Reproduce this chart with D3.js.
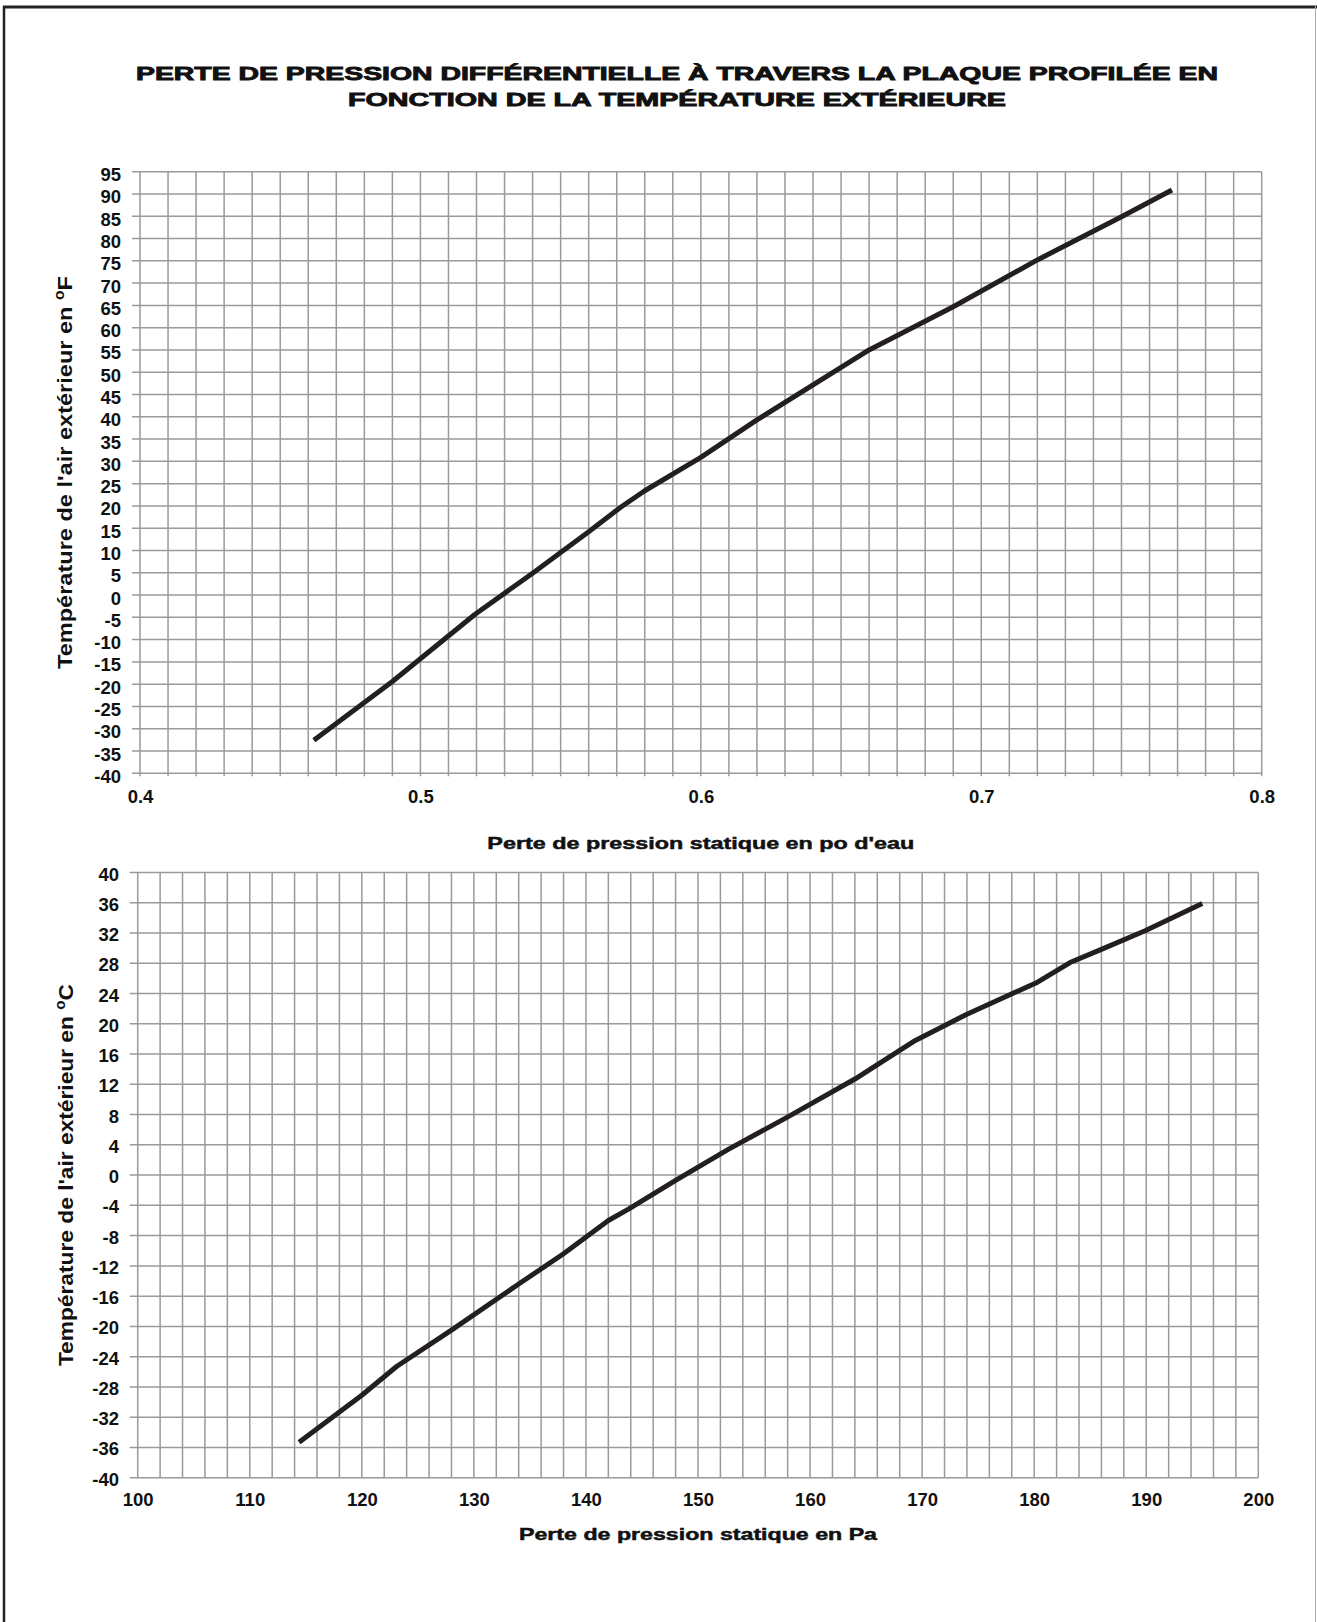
<!DOCTYPE html>
<html>
<head>
<meta charset="utf-8">
<script src="https://cdn.jsdelivr.net/npm/d3@7/dist/d3.min.js"></script>
<style>
  html, body { margin: 0; padding: 0; background: #fff; }
  svg { display: block; }
  text { font-family: "Liberation Sans", Arial, Helvetica, sans-serif; fill: #111; }
</style>
</head>
<body>
<svg id="chart" width="1317" height="1622"></svg>
<script>
// ---------- DATA ----------
const titleLines = [
  "PERTE DE PRESSION DIFFÉRENTIELLE À TRAVERS LA PLAQUE PROFILÉE EN",
  "FONCTION DE LA TEMPÉRATURE EXTÉRIEURE"
];

// Upper chart: pressure drop (in. of water) vs outdoor temperature (°F)
const topPressure = [0.462, 0.490, 0.5195, 0.540, 0.560, 0.5714, 0.580, 0.600, 0.620, 0.660, 0.690, 0.720, 0.750, 0.768];
const topTempF    = [-32.6, -19.4, -4.3,   4.9,   14.2,  19.7,   23.4,  30.9,  39.3,  55.0,  64.7,  75.2,  84.9,  90.9];
const topXTickLabels = [0.4, 0.5, 0.6, 0.7, 0.8];
const topYTickLabels = [95, 90, 85, 80, 75, 70, 65, 60, 55, 50, 45, 40, 35, 30, 25, 20, 15, 10, 5, 0, -5, -10, -15, -20, -25, -30, -35, -40];
const topXTitle = "Perte de pression statique en po d'eau";
const topYTitle = "Température de l'air extérieur en ";
const topYUnit = "F";

// Lower chart: pressure drop (Pa) vs outdoor temperature (°C)
const botPressure = [114.4, 120.0, 123.1, 128.0, 133.9, 138.0, 142.0, 143.8, 148.0, 152.7, 157.9, 164.0, 168.0, 169.4, 173.9, 180.3, 183.2, 186.1, 189.9, 195.0];
const botTempC    = [-35.3, -29.1, -25.3, -20.5, -14.5, -10.4, -6.0,  -4.5,  -0.7,  3.4,   7.6,   12.7,  16.5,  17.8,  21.2,  25.5,  28.1,  29.9,  32.3,  35.9];
const botXTickLabels = [100, 110, 120, 130, 140, 150, 160, 170, 180, 190, 200];
const botYTickLabels = [40, 36, 32, 28, 24, 20, 16, 12, 8, 4, 0, -4, -8, -12, -16, -20, -24, -28, -32, -36, -40];
const botXTitle = "Perte de pression statique en Pa";
const botYTitle = "Température de l'air extérieur en ";
const botYUnit = "C";

// ---------- DRAWING ----------
const svg = d3.select("#chart");
const GRID = "#9a9a9a";
const INK = "#231f20";

// page frame
svg.append("line").attr("x1", 3).attr("x2", 1317).attr("y1", 7).attr("y2", 7)
  .attr("stroke", "#222").attr("stroke-width", 3);
svg.append("line").attr("x1", 4).attr("x2", 4).attr("y1", 6).attr("y2", 1622)
  .attr("stroke", "#222").attr("stroke-width", 2.5);
svg.append("line").attr("x1", 1315.5).attr("x2", 1315.5).attr("y1", 6).attr("y2", 1622)
  .attr("stroke", "#aaa").attr("stroke-width", 1);

// title
const titleY = [80, 106];
const titleW = [1082, 658];
titleLines.forEach((t, i) => {
  svg.append("text")
    .attr("x", 677).attr("y", titleY[i])
    .attr("text-anchor", "middle")
    .attr("font-size", 19)
    .attr("font-weight", "bold")
    .attr("stroke", "#111").attr("stroke-width", 0.9)
    .attr("textLength", titleW[i])
    .attr("lengthAdjust", "spacingAndGlyphs")
    .text(t);
});

function drawPanel(cfg) {
  const x = d3.scaleLinear().domain(cfg.xDomain).range([cfg.left, cfg.right]);
  const y = d3.scaleLinear().domain(cfg.yDomain).range([cfg.bottom, cfg.top]);
  const g = svg.append("g");

  // vertical grid lines
  const vStep = (cfg.xDomain[1] - cfg.xDomain[0]) / cfg.xCells;
  const vVals = d3.range(cfg.xCells + 1).map(i => cfg.xDomain[0] + i * vStep);
  g.append("g").selectAll("line").data(vVals).join("line")
    .attr("x1", d => x(d)).attr("x2", d => x(d))
    .attr("y1", cfg.top).attr("y2", cfg.bottom + cfg.xTickLen)
    .attr("stroke", GRID).attr("stroke-width", 1.5);

  // horizontal grid lines (extend left as tick marks)
  g.append("g").selectAll("line").data(cfg.yTicks).join("line")
    .attr("x1", cfg.left - cfg.yTickLen).attr("x2", cfg.right)
    .attr("y1", d => y(d)).attr("y2", d => y(d))
    .attr("stroke", GRID).attr("stroke-width", 1.5);

  // y axis labels through d3 axis
  const yAxis = d3.axisLeft(y).tickValues(cfg.yTicks).tickSize(0).tickPadding(0)
    .tickFormat(d => String(d));
  const ya = g.append("g").attr("transform", `translate(${cfg.yLabelX},0)`).call(yAxis);
  ya.select(".domain").remove();
  ya.selectAll("text")
    .attr("font-family", "'Liberation Sans', Arial, sans-serif")
    .attr("font-size", 18.5).attr("font-weight", "bold").attr("fill", "#111")
    .attr("dy", null).attr("y", cfg.yLabelDy);

  // x axis labels through d3 axis
  const xAxis = d3.axisBottom(x).tickValues(cfg.xTicks).tickSize(0).tickPadding(0)
    .tickFormat(cfg.xFormat);
  const xa = g.append("g").attr("transform", `translate(0,${cfg.xLabelY})`).call(xAxis);
  xa.select(".domain").remove();
  xa.selectAll("text")
    .attr("font-family", "'Liberation Sans', Arial, sans-serif")
    .attr("font-size", 18.5).attr("font-weight", "bold").attr("fill", "#111")
    .attr("dy", null).attr("y", 0);

  // curve
  const pts = cfg.xs.map((v, i) => [v, cfg.ys[i]]);
  g.append("path")
    .datum(pts)
    .attr("fill", "none")
    .attr("stroke", INK)
    .attr("stroke-width", 5)
    .attr("stroke-linejoin", "round")
    .attr("d", d3.line().x(d => x(d[0])).y(d => y(d[1])).curve(d3.curveLinear));

  // x title
  svg.append("text")
    .attr("x", (cfg.left + cfg.right) / 2).attr("y", cfg.xTitleY)
    .attr("text-anchor", "middle")
    .attr("font-size", 17).attr("font-weight", "bold")
    .attr("stroke", "#111").attr("stroke-width", 0.5)
    .attr("textLength", cfg.xTitleW).attr("lengthAdjust", "spacingAndGlyphs")
    .text(cfg.xTitle);

  // y title (rotated) with superscript degree "o"
  const cy = (cfg.top + cfg.bottom) / 2;
  const yt = svg.append("text")
    .attr("transform", `translate(${cfg.yTitleX},${cy}) rotate(-90)`)
    .attr("text-anchor", "middle")
    .attr("font-size", 21).attr("font-weight", "bold")
    .attr("textLength", cfg.yTitleW).attr("lengthAdjust", "spacingAndGlyphs");
  yt.append("tspan").text(cfg.yTitle);
  yt.append("tspan").attr("font-size", 14).attr("dy", -8).text("o");
  yt.append("tspan").attr("dy", 8).text(cfg.yUnit);
}

drawPanel({
  xDomain: [0.4, 0.8], yDomain: [-40, 95],
  left: 140, right: 1261.7, top: 171.7, bottom: 773.3,
  xCells: 40, yTicks: topYTickLabels, xTicks: topXTickLabels,
  xFormat: d3.format(".1f"),
  xTickLen: 3, yTickLen: 8,
  yLabelX: 121, yLabelDy: 9, xLabelY: 803,
  xs: topPressure, ys: topTempF,
  xTitle: topXTitle, xTitleY: 849, xTitleW: 427,
  yTitle: topYTitle, yUnit: topYUnit, yTitleX: 72, yTitleW: 393
});

drawPanel({
  xDomain: [100, 200], yDomain: [-40, 40],
  left: 137.7, right: 1258.3, top: 872.5, bottom: 1477.7,
  xCells: 50, yTicks: botYTickLabels, xTicks: botXTickLabels,
  xFormat: d => String(d),
  xTickLen: 0, yTickLen: 8,
  yLabelX: 119, yLabelDy: 7.5, xLabelY: 1506,
  xs: botPressure, ys: botTempC,
  xTitle: botXTitle, xTitleY: 1540, xTitleW: 358,
  yTitle: botYTitle, yUnit: botYUnit, yTitleX: 73, yTitleW: 382
});
</script>
</body>
</html>
